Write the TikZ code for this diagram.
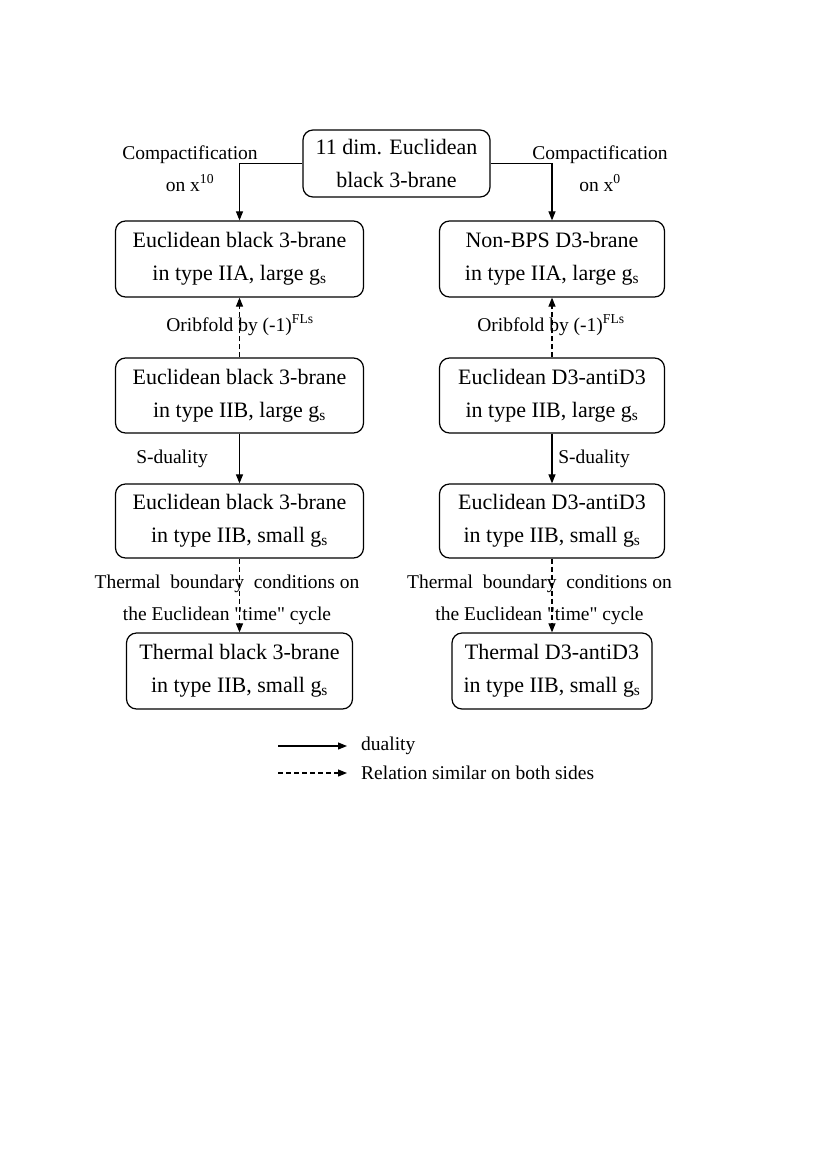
\documentclass[tikz,border=0pt]{standalone}
\usepackage{fontspec}
\setmainfont{Liberation Serif}
\usetikzlibrary{arrows.meta}
\begin{document}
\begin{tikzpicture}[x=1pt,y=-1pt,
  box/.style={draw,line width=1.2pt,rounded corners=10pt,inner sep=0pt,align=center,
    font=\fontsize{22}{33}\selectfont},
  lbl/.style={inner sep=0pt,align=center,font=\fontsize{19.5}{32}\selectfont},
  arr/.style={line width=1.1pt,-{Triangle[length=9pt,width=7pt]}},
  darr/.style={arr,dash pattern=on 5pt off 3pt}]
\useasboundingbox (0,0) rectangle (827,1170);
\node[box,minimum width=187pt,minimum height=67pt] (top) at (396.5,163.5) {11 dim. Euclidean\\black 3-brane};
\node[box,minimum width=248pt,minimum height=76pt] (L1) at (239.5,259) {Euclidean black 3-brane\\in type IIA, large g\textsubscript{s}};
\node[box,minimum width=225pt,minimum height=76pt] (R1) at (552,259) {Non-BPS D3-brane\\in type IIA, large g\textsubscript{s}};
\node[box,minimum width=248pt,minimum height=75pt] (L2) at (239.5,395.5) {Euclidean black 3-brane\\in type IIB, large g\textsubscript{s}};
\node[box,minimum width=225pt,minimum height=75pt] (R2) at (552,395.5) {Euclidean D3-antiD3\\in type IIB, large g\textsubscript{s}};
\node[box,minimum width=248pt,minimum height=74pt] (L3) at (239.5,521) {Euclidean black 3-brane\\in type IIB, small g\textsubscript{s}};
\node[box,minimum width=225pt,minimum height=74pt] (R3) at (552,521) {Euclidean D3-antiD3\\in type IIB, small g\textsubscript{s}};
\node[box,minimum width=226pt,minimum height=76pt] (L4) at (239.5,671) {Thermal black 3-brane\\in type IIB, small g\textsubscript{s}};
\node[box,minimum width=200pt,minimum height=76pt] (R4) at (552,671) {Thermal D3-antiD3\\in type IIB, small g\textsubscript{s}};
% connectors
\draw[arr] (top.west) -| (L1.north);
\draw[arr] (top.east) -| (R1.north);
\draw[darr] (L2.north) -- (L1.south);
\draw[darr] (R2.north) -- (R1.south);
\draw[arr] (L2.south) -- (L3.north);
\draw[arr] (R2.south) -- (R3.north);
\draw[darr] (L3.south) -- (L4.north);
\draw[darr] (R3.south) -- (R4.north);
% labels
\node[lbl] (c1) at (190,168.5) {Compactification\\on x\textsuperscript{10}};
\node[lbl] (c2) at (600,168.5) {Compactification\\on x\textsuperscript{0}};
\node[lbl] (o1) at (240,325) {Oribfold by (-1)\textsuperscript{FLs}};
\node[lbl] (o2) at (551,325) {Oribfold by (-1)\textsuperscript{FLs}};
\node[lbl] (s1) at (172,459) {S-duality};
\node[lbl] (s2) at (594,459) {S-duality};
\node[lbl] (t1) at (227,600) {Thermal\ \ boundary\ \ conditions on\\the Euclidean \textquotedbl time\textquotedbl{} cycle};
\node[lbl] (t2) at (539.5,600) {Thermal\ \ boundary\ \ conditions on\\the Euclidean \textquotedbl time\textquotedbl{} cycle};
% legend
\coordinate (la1) at (278,746);
\coordinate (lb1) at (347,746);
\coordinate (la2) at (278,773);
\coordinate (lb2) at (347,773);
\draw[arr] (la1) -- (lb1);
\draw[darr] (la2) -- (lb2);
\node[lbl,anchor=west] (k1) at (361,746) {duality};
\node[lbl,anchor=west] (k2) at (361,773) {Relation similar on both sides};
\end{tikzpicture}
\end{document}
